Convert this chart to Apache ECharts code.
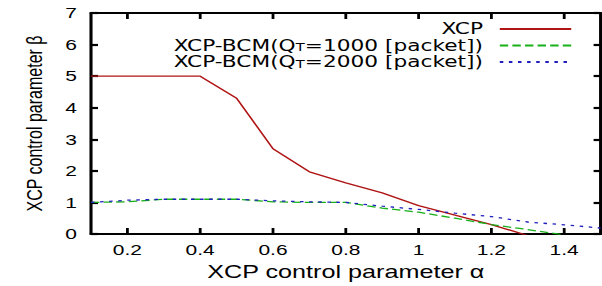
<!DOCTYPE html>
<html>
<head>
<meta charset="utf-8">
<script src="https://cdn.jsdelivr.net/npm/echarts@6/dist/echarts.min.js"></script>
<style>
  html, body { margin: 0; padding: 0; background: #fff; overflow: hidden; }
  /* the original figure is stretched sideways, so draw narrow and stretch */
  #main { width: 430px; height: 286px; transform: scaleX(1.4); transform-origin: 0 0; }
</style>
</head>
<body>
<div id="main"></div>
<script>
var alpha = [0.1, 0.2, 0.3, 0.4, 0.5, 0.6, 0.7, 0.8, 0.9, 1.0, 1.1, 1.2, 1.3, 1.4, 1.5];
// XCP
var dataXCP = [5, 5, 5, 5, 4.3, 2.7, 1.97, 1.62, 1.3, 0.9, 0.6, 0.3, -0.05, null, null];
// XCP-BCM, Q_T = 1000
var dataBCM1000 = [1.0, 1.02, 1.1, 1.1, 1.1, 1.02, 1.0, 1.0, 0.82, 0.69, 0.5, 0.3, 0.14, -0.03, null];
// XCP-BCM, Q_T = 2000
var dataBCM2000 = [1.0, 1.07, 1.1, 1.1, 1.1, 1.05, 1.02, 1.0, 0.88, 0.78, 0.66, 0.55, 0.38, 0.29, 0.19];

var seriesNames = ['XCP', 'XCP-BCM(Q_T=1000 [packet])', 'XCP-BCM(Q_T=2000 [packet])'];
var xTicks = [0.2, 0.4, 0.6, 0.8, 1.0, 1.2, 1.4];

function pairs(ys) {
    return alpha.map(function (a, i) { return [a, ys[i]]; });
}

var font = "'Liberation Sans', Arial, sans-serif";
// legend text is wider in the original, a wider face fits it better
var legendFont = "'DejaVu Sans', sans-serif";

var myChart = echarts.init(document.getElementById('main'), null, {renderer: 'svg'});

var axisLine = {show: true, onZero: false, lineStyle: {color: '#000', width: 2.2}};

option = {
    animation: false,
    backgroundColor: '#fff',
    textStyle: {fontFamily: font},
    grid: {left: 65, right: 1, top: 13, bottom: 52},
    legend: {
        orient: 'vertical',
        align: 'right',
        right: 16,
        top: 16,
        itemWidth: 51,
        itemHeight: 8,
        itemGap: 0.5,
        data: seriesNames,
        itemStyle: {opacity: 0},
        formatter: function (name) {
            var parts = name.split('Q_T');
            if (parts.length < 2) {
                return '{m|' + name + '}';
            }
            return '{m|' + parts[0] + 'Q}{sub|T}{m|' + parts[1] + '}';
        },
        textStyle: {
            color: '#000',
            fontSize: 15.5,
            fontFamily: legendFont,
            padding: [0, 7, 0, 0],
            rich: {
                m: {fontSize: 15.5, lineHeight: 15, fontFamily: legendFont, color: '#000'},
                sub: {fontSize: 10.5, lineHeight: 8, verticalAlign: 'bottom', fontFamily: legendFont, color: '#000'}
            }
        }
    },
    xAxis: [
        {
            type: 'value',
            min: 0.1,
            max: 1.5,
            name: 'XCP control parameter α',
            nameLocation: 'middle',
            nameGap: 29,
            nameTextStyle: {color: '#000', fontSize: 18, fontFamily: font},
            axisLine: axisLine,
            axisTick: {show: true, inside: true, length: 6, customValues: xTicks,
                       lineStyle: {color: '#000', width: 2}},
            axisLabel: {color: '#000', fontSize: 15, margin: 8, fontFamily: font,
                        customValues: xTicks},
            splitLine: {show: false}
        },
        {
            type: 'value',
            position: 'top',
            min: 0.1,
            max: 1.5,
            axisLine: axisLine,
            axisTick: {show: true, inside: true, length: 6, customValues: xTicks,
                       lineStyle: {color: '#000', width: 2}},
            axisLabel: {show: false},
            splitLine: {show: false}
        }
    ],
    yAxis: [
        {
            type: 'value',
            min: 0,
            max: 7,
            interval: 1,
            name: 'XCP control parameter β',
            nameLocation: 'middle',
            nameGap: 33,
            nameTextStyle: {color: '#000', fontSize: 16, fontFamily: font},
            axisLine: axisLine,
            axisTick: {show: true, inside: true, length: 5, lineStyle: {color: '#000', width: 2.2}},
            axisLabel: {color: '#000', fontSize: 15, margin: 10, fontFamily: font},
            splitLine: {show: false}
        },
        {
            type: 'value',
            position: 'right',
            min: 0,
            max: 7,
            interval: 1,
            axisLine: axisLine,
            axisTick: {show: true, inside: true, length: 5, lineStyle: {color: '#000', width: 2.2}},
            axisLabel: {show: false},
            splitLine: {show: false}
        }
    ],
    series: [
        {
            name: seriesNames[0],
            type: 'line',
            symbol: 'none',
            clip: true,
            lineStyle: {color: '#b01515', width: 1.3, type: 'solid'},
            itemStyle: {color: '#b01515'},
            data: pairs(dataXCP)
        },
        {
            name: seriesNames[1],
            type: 'line',
            symbol: 'none',
            clip: true,
            lineStyle: {color: '#18b018', width: 1.3, type: [6, 3]},
            itemStyle: {color: '#18b018'},
            data: pairs(dataBCM1000)
        },
        {
            name: seriesNames[2],
            type: 'line',
            symbol: 'none',
            clip: true,
            lineStyle: {color: '#2020c0', width: 1.3, type: [2.5, 4]},
            itemStyle: {color: '#2020c0'},
            data: pairs(dataBCM2000)
        }
    ]
};
myChart.setOption(option);
</script>
</body>
</html>
